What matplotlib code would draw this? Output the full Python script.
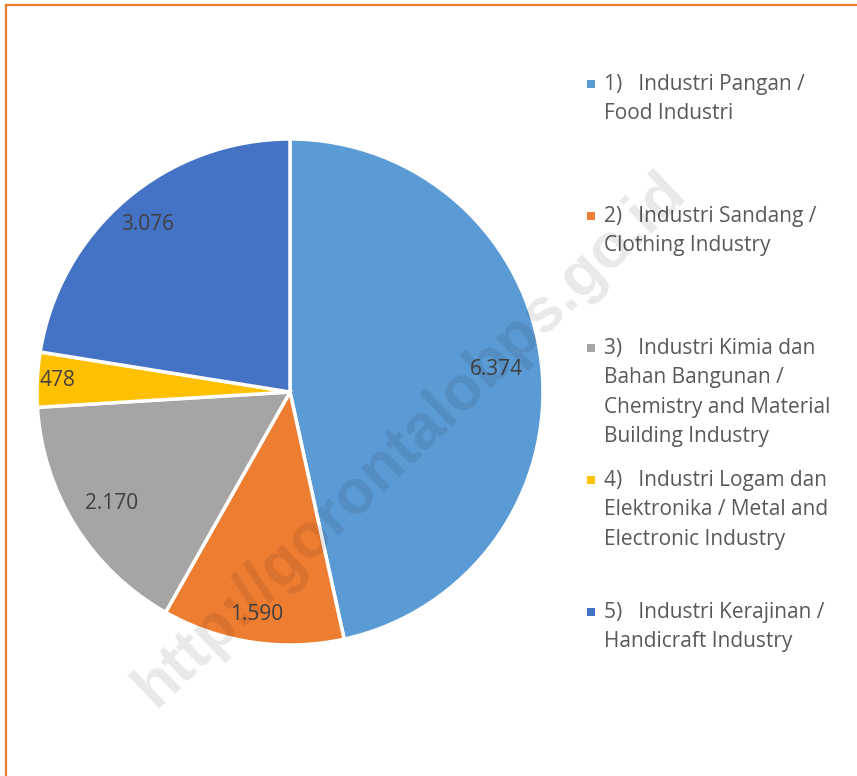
import numpy as np
import matplotlib
matplotlib.use("Agg")
import matplotlib.pyplot as plt
from matplotlib.patches import Rectangle
from matplotlib.lines import Line2D

# data
categories = [
    "1)   Industri Pangan /\nFood Industri",
    "2)   Industri Sandang /\nClothing Industry",
    "3)   Industri Kimia dan\nBahan Bangunan /\nChemistry and Material\nBuilding Industry",
    "4)   Industri Logam dan\nElektronika / Metal and\nElectronic Industry",
    "5)   Industri Kerajinan /\nHandicraft Industry",
]
values = [6374, 1590, 2170, 478, 3076]
value_labels = ["6.374", "1.590", "2.170", "478", "3.076"]
colors = ["#5B9BD5", "#ED7D31", "#A5A5A5", "#FFC000", "#4472C4"]
label_radius = [0.82, 0.89, 0.83, 0.92, 0.87]

W, H = 857, 776
fig = plt.figure(figsize=(W / 100, H / 100), dpi=100)
FONT = "Open Sans"

ax = fig.add_axes([37 / W, 131 / H, 506 / W, 506 / H])
wedges, _ = ax.pie(values, colors=colors, startangle=90, counterclock=False,
                   radius=1.0, wedgeprops=dict(edgecolor="white", linewidth=2.5))
ax.set_xlim(-1, 1); ax.set_ylim(-1, 1)
ax.set_aspect("equal")
ax.axis("off")

for w, lab, r in zip(wedges, value_labels, label_radius):
    mid = np.deg2rad((w.theta1 + w.theta2) / 2)
    ax.text(r * np.cos(mid), r * np.sin(mid), lab, ha="center", va="center",
            fontsize=15, color="#404040", family=FONT)

# legend, drawn by hand
x_mark, x_text = 591, 604
y0, step = 74, 132
for i, (lab, c) in enumerate(zip(categories, colors)):
    y = y0 + i * step
    fig.patches.append(Rectangle(((x_mark - 4) / W, 1 - (y + 14) / H), 8 / W, 8 / H,
                                 transform=fig.transFigure, facecolor=c, edgecolor="none"))
    fig.text(x_text / W, 1 - y / H, lab, ha="left", va="top", fontsize=15,
             color="#595959", family=FONT, linespacing=1.52)

# watermark
fig.text(410 / W, 1 - 440 / H, "http://gorontalobps.go.id", rotation=44,
         ha="center", va="center", fontsize=45, fontweight="bold",
         family="Liberation Sans", color="black", alpha=0.09)

# orange frame (top and left edges visible)
fig.lines.append(Line2D([6 / W, 1], [1 - 5 / H, 1 - 5 / H], transform=fig.transFigure,
                        color="#ED7D31", linewidth=1.6))
fig.lines.append(Line2D([6 / W, 6 / W], [0, 1 - 5 / H], transform=fig.transFigure,
                        color="#ED7D31", linewidth=1.6))

fig.savefig("out.png", dpi=100, facecolor="white")
